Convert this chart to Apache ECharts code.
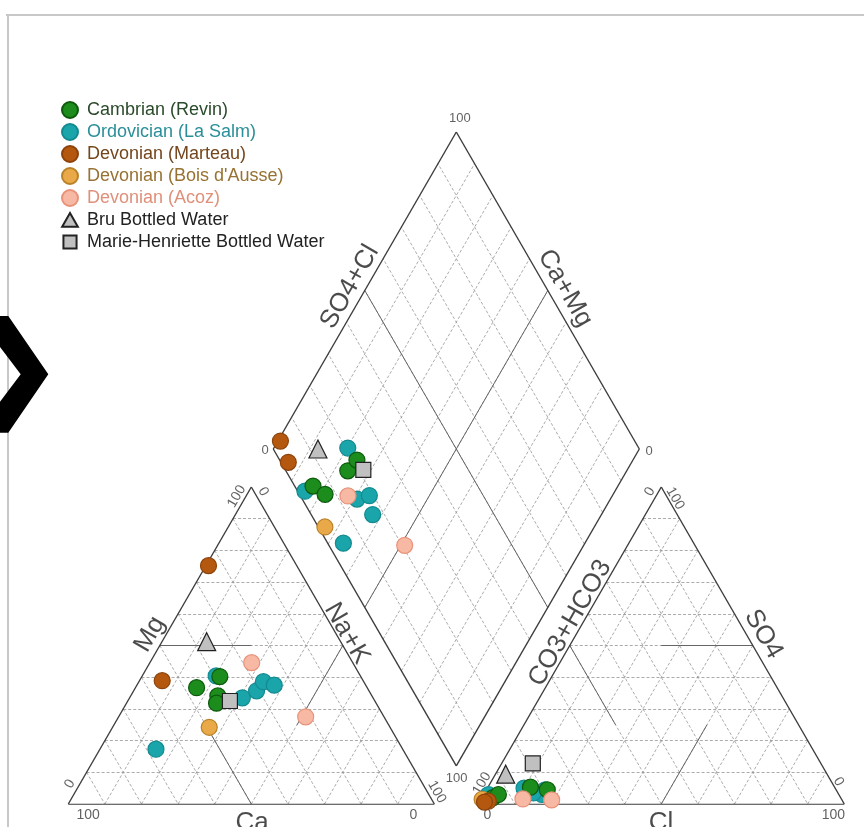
<!DOCTYPE html>
<html>
<head>
<meta charset="utf-8">
<script src="https://cdn.jsdelivr.net/npm/echarts@6/dist/echarts.min.js"></script>
<style>
  html, body { margin: 0; padding: 0; background: #ffffff; }
  #chart { width: 864px; height: 827px; }
</style>
</head>
<body>
<div id="chart"></div>
<script>
// Piper diagram of groundwater samples (percent of meq/L).
// Each row: [Ca, Mg, Na+K, CO3+HCO3, SO4, Cl]
const cambrian = [
  [46.6, 36.7, 16.7, 95.0, 2.0, 3.0],
  [38.5, 40.2, 21.3, 93.0, 3.0, 4.0],
  [42.1, 34.1, 23.8, 83.1, 5.3, 11.6],
  [43.6, 31.8, 24.6, 78.9, 4.5, 16.6]
];
const ordovician = [
  [39.4, 40.4, 20.2, 79.5, 4.5, 16.0],
  [35.7, 33.5, 30.8, 85.0, 5.0, 10.0],
  [30.7, 35.7, 33.6, 81.1, 3.0, 15.9],
  [27.4, 38.6, 34.0, 95.7, 3.0, 1.3],
  [25.0, 37.5, 37.5, 83.2, 3.5, 13.3],
  [67.4, 17.3, 15.3, 98.0, 1.0, 1.0]
];
const marteau = [
  [24.1, 75.2, 0.7, 96.8, 0.9, 2.3],
  [54.9, 38.9, 6.2, 98.0, 0.6, 1.4]
];
const boisDAusse = [
  [49.4, 24.2, 26.4, 98.2, 1.5, 0.3]
];
const acoz = [
  [27.6, 44.6, 27.8, 87.0, 1.6, 11.4],
  [21.4, 27.5, 51.1, 79.3, 1.3, 19.4]
];
const bru = [
  [36.6, 51.2, 12.2, 87.8, 9.4, 2.8]
];
const marieHenriette = [
  [39.6, 32.5, 27.9, 78.7, 12.8, 8.5]
];

const groupNames = [
  'Cambrian (Revin)',
  'Ordovician (La Salm)',
  'Devonian (Marteau)',
  "Devonian (Bois d'Ausse)",
  'Devonian (Acoz)',
  'Bru Bottled Water',
  'Marie-Henriette Bottled Water'
];
const groupSamples = [cambrian, ordovician, marteau, boisDAusse, acoz, bru, marieHenriette];

const axisTitles = ['Ca', 'Mg', 'Na+K', 'Cl', 'SO4', 'CO3+HCO3', 'SO4+Cl', 'Ca+Mg'];
const gridSteps = [10, 20, 30, 40, 50, 60, 70, 80, 90];
const endTickLabels = ['0', '100'];

// ---- geometry (triangle side = 100 units) ----
const H = Math.sqrt(3) / 2;
const GAP = 12;

function cationPt(ca, mg, nak) {
  const t = ca + mg + nak;
  return [(nak + mg / 2) / t * 100, mg / t * 100 * H];
}
function anionPt(hco3, so4, cl) {
  const t = hco3 + so4 + cl;
  return [100 + GAP + (cl + so4 / 2) / t * 100, so4 / t * 100 * H];
}
function diamondPt(so4cl, camg) {
  return [100 + GAP / 2 + (so4cl - camg) / 2, GAP * H + (so4cl + camg) * H];
}

// ---- frame lines ----
const outline = [];
const dashed = [];
const heavy = [];
function seg(list, a, b) { list.push({ coords: [a, b] }); }

// cation triangle
seg(outline, cationPt(100, 0, 0), cationPt(0, 0, 100));
seg(outline, cationPt(0, 0, 100), cationPt(0, 100, 0));
seg(outline, cationPt(0, 100, 0), cationPt(100, 0, 0));
// anion triangle
seg(outline, anionPt(100, 0, 0), anionPt(0, 0, 100));
seg(outline, anionPt(0, 0, 100), anionPt(0, 100, 0));
seg(outline, anionPt(0, 100, 0), anionPt(100, 0, 0));
// diamond
seg(outline, diamondPt(0, 0), diamondPt(100, 0));
seg(outline, diamondPt(100, 0), diamondPt(100, 100));
seg(outline, diamondPt(100, 100), diamondPt(0, 100));
seg(outline, diamondPt(0, 100), diamondPt(0, 0));

gridSteps.forEach(function (k) {
  seg(dashed, cationPt(100 - k, k, 0), cationPt(0, k, 100 - k));
  seg(dashed, cationPt(k, 100 - k, 0), cationPt(k, 0, 100 - k));
  seg(dashed, cationPt(100 - k, 0, k), cationPt(0, 100 - k, k));
  seg(dashed, anionPt(100 - k, k, 0), anionPt(0, k, 100 - k));
  seg(dashed, anionPt(k, 100 - k, 0), anionPt(k, 0, 100 - k));
  seg(dashed, anionPt(100 - k, 0, k), anionPt(0, 100 - k, k));
  seg(dashed, diamondPt(k, 0), diamondPt(k, 100));
  seg(dashed, diamondPt(0, k), diamondPt(100, k));
});

// facies divisions
seg(heavy, cationPt(50, 50, 0), cationPt(25, 50, 25));
seg(heavy, cationPt(50, 0, 50), cationPt(50, 25, 25));
seg(heavy, cationPt(0, 50, 50), cationPt(25, 25, 50));
seg(heavy, anionPt(0, 50, 50), anionPt(25, 50, 25));
seg(heavy, anionPt(50, 0, 50), anionPt(25, 25, 50));
seg(heavy, anionPt(50, 50, 0), anionPt(50, 25, 25));
seg(heavy, diamondPt(50, 0), diamondPt(50, 100));
seg(heavy, diamondPt(0, 50), diamondPt(100, 50));

// ---- sample points ----
function samplePoints(rows) {
  const pts = [];
  rows.forEach(function (r) {
    pts.push(cationPt(r[0], r[1], r[2]));
    pts.push(anionPt(r[3], r[4], r[5]));
    const so4cl = (r[4] + r[5]) / (r[3] + r[4] + r[5]) * 100;
    const camg = (r[0] + r[1]) / (r[0] + r[1] + r[2]) * 100;
    pts.push(diamondPt(so4cl, camg));
  });
  return pts;
}

// legend icons for the bottled waters, padded to a square box so they keep their shape
const TRIANGLE_ICON = 'path://M0,0M20,20M0.2,18.4L10,1.4L19.8,18.4Z';
const SQUARE_ICON = 'path://M0,0M20,20M1.8,1.8L18.2,1.8L18.2,18.2L1.8,18.2Z';

const groupStyles = [
  { symbol: 'circle', size: 16, color: '#1c8c1c', border: '#0d5a0d', text: '#2a4a2a' },
  { symbol: 'circle', size: 16, color: '#1aa5ab', border: '#138a90', text: '#2a8f98' },
  { symbol: 'circle', size: 16, color: '#b5580f', border: '#8c430c', text: '#74461c' },
  { symbol: 'circle', size: 16, color: '#eaa948', border: '#b98228', text: '#977232' },
  { symbol: 'circle', size: 16, color: '#f8b9a4', border: '#e8927a', text: '#e0907a' },
  { symbol: 'triangle', size: 18, color: '#c0c0c0', border: '#222222', text: '#222222', icon: TRIANGLE_ICON },
  { symbol: 'rect', size: 15, color: '#c0c0c0', border: '#222222', text: '#222222', icon: SQUARE_ICON }
];
const drawOrder = [1, 0, 4, 3, 2, 5, 6];

// ---- text labels ----
function textItem(txt, pos, rot, size, color) {
  return {
    value: pos, name: txt,
    label: { show: true, position: 'inside', rotate: rot, fontSize: size, color: color,
             fontFamily: 'Liberation Sans, Arial, sans-serif', formatter: txt }
  };
}
const TITLE = 26, TICK = 14, TC = '#1e1e1e', LC = '#3a3a3a';
const textData = [
  textItem(axisTitles[0], [50.2, -5.1], 0, TITLE, TC),
  textItem(axisTitles[1], [22.3, 46.4], 60, TITLE, TC),
  textItem(axisTitles[2], [76.1, 46.6], -60, TITLE, TC),
  textItem(axisTitles[3], [161.9, -5.1], 0, TITLE, TC),
  textItem(axisTitles[4], [189.9, 46.4], -60, TITLE, TC),
  textItem(axisTitles[5], [137.1, 49.4], 60, TITLE, TC),
  textItem(axisTitles[6], [76.9, 141.3], 60, TITLE, TC),
  textItem(axisTitles[7], [135.7, 140.9], -60, TITLE, TC),
  // cation triangle
  textItem(endTickLabels[1], [5.4, -3.1], 0, TICK, LC),
  textItem(endTickLabels[0], [0.4, 5.5], 60, TICK, LC),
  textItem(endTickLabels[1], [46.0, 84.0], 60, TICK, LC),
  textItem(endTickLabels[0], [53.3, 85.3], -60, TICK, LC),
  textItem(endTickLabels[0], [94.3, -3.1], 0, TICK, LC),
  textItem(endTickLabels[1], [100.7, 3.3], -60, TICK, LC),
  // anion triangle
  textItem(endTickLabels[0], [114.5, -3.1], 0, TICK, LC),
  textItem(endTickLabels[1], [113.0, 5.6], 60, TICK, LC),
  textItem(endTickLabels[0], [158.9, 85.3], 60, TICK, LC),
  textItem(endTickLabels[1], [165.8, 83.5], -60, TICK, LC),
  textItem(endTickLabels[0], [210.4, 6.1], -60, TICK, LC),
  textItem(endTickLabels[1], [209.0, -3.1], 0, TICK, LC),
  // diamond
  textItem(endTickLabels[0], [53.8, 96.7], 0, TICK - 1, LC),
  textItem(endTickLabels[1], [107.0, 187.4], 0, TICK - 1, LC),
  textItem(endTickLabels[0], [158.7, 96.4], 0, TICK - 1, LC),
  textItem(endTickLabels[1], [106.1, 7.0], 0, TICK - 1, LC)
];

const series = [
  { type: 'lines', coordinateSystem: 'cartesian2d', silent: true, z: 1,
    lineStyle: { color: '#959595', width: 0.8, type: [3, 2], opacity: 1 }, data: dashed },
  { type: 'lines', coordinateSystem: 'cartesian2d', silent: true, z: 2,
    lineStyle: { color: '#666666', width: 1, type: 'solid', opacity: 1 }, data: heavy },
  { type: 'lines', coordinateSystem: 'cartesian2d', silent: true, z: 3,
    lineStyle: { color: '#3c3c3c', width: 1.4, type: 'solid', opacity: 1 }, data: outline },
  { type: 'scatter', silent: true, clip: false, symbolSize: 0, z: 4, data: textData }
];
drawOrder.forEach(function (i) {
  const st = groupStyles[i];
  series.push({
    type: 'scatter', name: groupNames[i], z: 5, clip: false,
    symbol: st.symbol, symbolSize: st.size,
    itemStyle: { color: st.color, borderColor: st.border, borderWidth: 1.2, opacity: 1 },
    data: samplePoints(groupSamples[i])
  });
});

const chart = echarts.init(document.getElementById('chart'), null, { renderer: 'canvas' });
chart.setOption({
  animation: false,
  backgroundColor: '#ffffff',
  grid: { left: 68.3, top: 132, width: 776, height: 672 },
  xAxis: { type: 'value', min: 0, max: 212, show: false },
  yAxis: { type: 'value', min: 0, max: 183.6, show: false },
  legend: {
    orient: 'vertical', left: 56, top: 96,
    itemWidth: 24, itemHeight: 16, itemGap: 4,
    symbolKeepAspect: true,
    selectedMode: false,
    textStyle: { fontSize: 18, fontFamily: 'Liberation Sans, Arial, sans-serif' },
    data: groupNames.map(function (n, i) {
      const item = { name: n, textStyle: { color: groupStyles[i].text } };
      if (groupStyles[i].icon) item.icon = groupStyles[i].icon;
      return item;
    })
  },
  graphic: [
    // page frame
    { type: 'line', shape: { x1: 6, y1: 15, x2: 864, y2: 15 }, style: { stroke: '#c8c8c8', lineWidth: 2 } },
    { type: 'line', shape: { x1: 8, y1: 14, x2: 8, y2: 827 }, style: { stroke: '#c8c8c8', lineWidth: 2 } },
    // slide navigation arrow
    { type: 'polygon', z: 100,
      shape: { points: [[-2, 316], [8.3, 316], [48.3, 374.3], [8.3, 432.7], [-2, 432.7], [-2, 404.3], [20.7, 374.3], [-2, 344.3]] },
      style: { fill: '#000000' } }
  ],
  series: series
});
</script>
</body>
</html>
